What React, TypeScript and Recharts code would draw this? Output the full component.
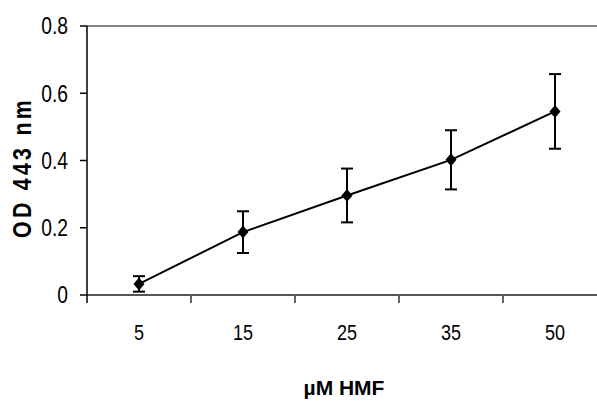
import React from 'react';
import { LineChart, Line, XAxis, YAxis, ErrorBar, ReferenceLine } from 'recharts';

const categories = ['5', '15', '25', '35', '50'];
const odValues = [0.033, 0.187, 0.296, 0.402, 0.546];
const odErrors = [0.023, 0.062, 0.08, 0.088, 0.111];
const yTicks = [0, 0.2, 0.4, 0.6, 0.8];
const xLabel = 'µM HMF';
const yLabel = 'OD 443 nm';

const data = categories.map((c, i) => ({ pos: i + 0.5, label: c, od: odValues[i], err: odErrors[i] }));
const xTicks: number[] = [];
for (let i = 0; i <= categories.length; i++) {
  xTicks.push(i);
  if (i < categories.length) xTicks.push(i + 0.5);
}

const FONT = '"Liberation Sans", Arial, sans-serif';
const CHART_W = 620;
const CHART_H = 401;
const NARROW = 0.82;

const XTick = (props: any) => {
  const { x, y, payload } = props;
  const v = payload.value;
  if (Number.isInteger(v)) {
    return <line x1={x} y1={y} x2={x} y2={y + 8} stroke={v === 0 ? '#000' : '#666'} strokeWidth={v === 0 ? 1.5 : 2} />;
  }
  return (
    <text transform={`translate(${x},${y + 45}) scale(${NARROW},1)`} x={0} y={0} textAnchor="middle" fontFamily={FONT} fontSize={22} fill="#000">
      {categories[Math.floor(v)]}
    </text>
  );
};

const YTick = (props: any) => {
  const { x, y, payload } = props;
  const v = payload.value as number;
  return (
    <text transform={`translate(${x},${y}) scale(${NARROW},1)`} x={0} y={0} dy="0.355em" textAnchor="end" fontFamily={FONT} fontSize={23.5} fill="#000">
      {v === 0 ? '0' : v.toFixed(1)}
    </text>
  );
};

const Diamond = (props: any) => {
  const { cx, cy } = props;
  if (cx == null || cy == null) return null;
  return <path d={`M${cx},${cy - 6.5} L${cx + 5.5},${cy} L${cx},${cy + 6.5} L${cx - 5.5},${cy} Z`} fill="#000" />;
};

export default function App() {
  return (
    <div style={{ width: 597, height: 401, overflow: 'hidden', background: '#fff' }}>
      <style>{'html,body{margin:0;padding:0;overflow:hidden;}'}</style>
      <LineChart width={CHART_W} height={CHART_H} data={data} margin={{ top: 26, right: 13, left: 0, bottom: 0 }}>
        <ReferenceLine y={0.8} stroke="#888" strokeWidth={2} />
        <XAxis
          type="number"
          dataKey="pos"
          domain={[0, categories.length]}
          ticks={xTicks}
          interval={0}
          tickSize={0}
          tickMargin={0}
          tickLine={false}
          height={106}
          axisLine={{ stroke: '#555', strokeWidth: 2 }}
          tick={<XTick />}
          label={{
            content: (p: any) => {
              const vb = p.viewBox || {};
              const cx = (vb.x ?? 87) + (vb.width ?? 520) / 2 - 3;
              return (
                <text x={cx} y={CHART_H - 6} textAnchor="middle" fontFamily={FONT} fontWeight="bold" fontSize={21} fill="#000">
                  {xLabel}
                </text>
              );
            },
          }}
        />
        <YAxis
          type="number"
          domain={[0, 0.8]}
          ticks={yTicks}
          width={87}
          tickSize={7}
          tickMargin={12}
          axisLine={{ stroke: '#000', strokeWidth: 1.5 }}
          tickLine={{ stroke: '#000', strokeWidth: 1.5 }}
          tick={<YTick />}
          label={{
            content: (p: any) => {
              const vb = p.viewBox;
              const cx = 31;
              const cy = vb.y + vb.height / 2 + 7;
              return (
                <text transform={`translate(${cx},${cy}) rotate(-90) scale(${NARROW},1)`} x={0} y={0} textAnchor="middle" fontFamily={FONT} fontWeight="bold" fontSize={26} letterSpacing={4} fill="#000">
                  {yLabel}
                </text>
              );
            },
          }}
        />
        <Line
          dataKey="od"
          stroke="#000"
          strokeWidth={2}
          isAnimationActive={false}
          dot={<Diamond />}
          activeDot={false}
        >
          <ErrorBar dataKey="err" direction="y" width={6} stroke="#000" strokeWidth={2} isAnimationActive={false} />
        </Line>
      </LineChart>
    </div>
  );
}
